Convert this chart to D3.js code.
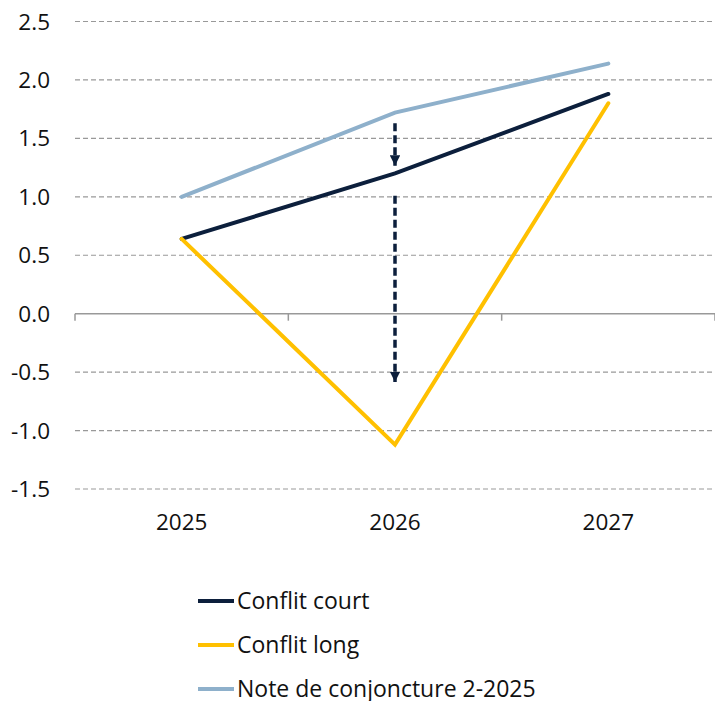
<!DOCTYPE html>
<html><head><meta charset="utf-8">
<script src="https://cdn.jsdelivr.net/npm/d3@7"></script>
<style>body{margin:0;background:#fff}svg{display:block}text{font-family:"Open Sans",sans-serif;fill:#111}</style>
</head><body><svg id="c" width="715" height="701"></svg>
<script>
const years = ["2025","2026","2027"];
const conflitCourt = [0.64, 1.20, 1.88];
const conflitLong = [0.64, -1.12, 1.80];
const noteConj = [1.00, 1.72, 2.14];
const yTicks = [2.5, 2.0, 1.5, 1.0, 0.5, 0.0, -0.5, -1.0, -1.5];
const arrows = [{year:"2026", from:1.63, to:1.265}, {year:"2026", from:1.01, to:-0.585}];
const seriesNames = ["Conflit court","Conflit long","Note de conjoncture 2-2025"];
const colors = ["#0c1f3c","#ffc000","#8eb0cb"];

const svg = d3.select("#c");
const x = d3.scaleBand().domain(years).range([75, 715]);
const y = d3.scaleLinear().domain([-1.5, 2.5]).range([489, 21.5]);

// gridlines
svg.append("g").selectAll("line").data(yTicks.filter(d=>d!==0)).join("line")
  .attr("x1",75).attr("x2",715).attr("y1",d=>y(d)).attr("y2",d=>y(d))
  .attr("stroke","#999").attr("stroke-width",1.2).attr("stroke-dasharray","5,3");

// y labels
svg.append("g").selectAll("text").data(yTicks).join("text")
  .attr("x",50).attr("y",d=>y(d)).attr("dy","0.36em").attr("text-anchor","end")
  .attr("font-size",22.5).text(d=>d.toFixed(1));

// zero axis
svg.append("line").attr("x1",75).attr("x2",715).attr("y1",y(0)).attr("y2",y(0)).attr("stroke","#999").attr("stroke-width",1.5);
const bounds = years.map(d=>x(d)).concat([x.range()[1]]);
svg.append("g").selectAll("line").data(bounds).join("line")
  .attr("x1",d=>d).attr("x2",d=>d).attr("y1",y(0)).attr("y2",y(0)+7)
  .attr("stroke","#999").attr("stroke-width",1.5);

// category labels
svg.append("g").selectAll("text").data(years).join("text")
  .attr("x",d=>x(d)+x.bandwidth()/2).attr("y",522).attr("dy","0.36em")
  .attr("text-anchor","middle").attr("font-size",22.5).text(d=>d);

// lines
const line = d3.line().x((d,i)=>x(years[i])+x.bandwidth()/2).y(d=>y(d));
const allSeries = [noteConj, conflitCourt, conflitLong];
const allColors = [colors[2], colors[0], colors[1]];
allSeries.forEach((s,i)=>{
  svg.append("path").datum(s).attr("d",line).attr("fill","none")
    .attr("stroke",allColors[i]).attr("stroke-width",4).attr("stroke-linecap","round").attr("stroke-linejoin","miter");
});

// arrows
const defs = svg.append("defs");
defs.append("marker").attr("id","ah").attr("viewBox","0 0 10 10").attr("refX",10).attr("refY",5)
  .attr("markerWidth",3).attr("markerHeight",3).attr("markerUnits","strokeWidth").attr("orient","auto")
  .append("path").attr("d","M0,0L10,5L0,10z").attr("fill",colors[0]);
svg.append("g").selectAll("line").data(arrows).join("line")
  .attr("x1",d=>x(d.year)+x.bandwidth()/2).attr("x2",d=>x(d.year)+x.bandwidth()/2)
  .attr("y1",d=>y(d.from)).attr("y2",d=>y(d.to))
  .attr("stroke",colors[0]).attr("stroke-width",3.5).attr("stroke-dasharray","8,4")
  .attr("marker-end","url(#ah)");

// legend
const lg = svg.append("g").selectAll("g").data(seriesNames).join("g")
  .attr("transform",(d,i)=>`translate(0,${601+i*44})`);
lg.append("line").attr("x1",198).attr("x2",234).attr("y1",0).attr("y2",0)
  .attr("stroke",(d,i)=>colors[i]).attr("stroke-width",4);
lg.append("text").attr("x",237).attr("y",0).attr("dy","0.36em").attr("font-size",23).text(d=>d);
</script></body></html>
